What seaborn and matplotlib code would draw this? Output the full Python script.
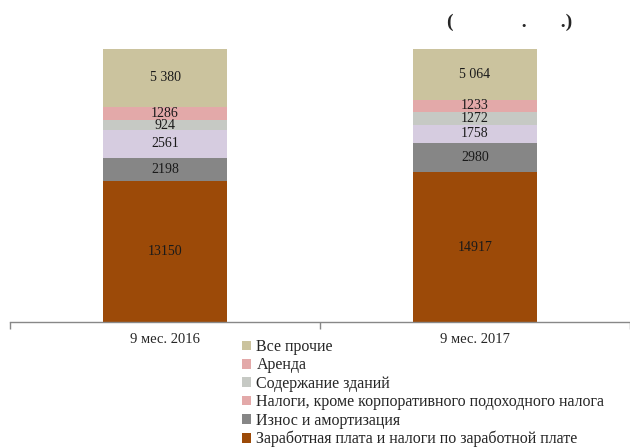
import numpy as np
import pandas as pd
import matplotlib
matplotlib.use('Agg')
import matplotlib.pyplot as plt
from matplotlib.patches import Patch
import seaborn as sns

# data (bottom -> top)
periods = ['9 мес. 2016', '9 мес. 2017']
series = ['Заработная плата и налоги по заработной плате',
          'Износ и амортизация',
          'Налоги, кроме корпоративного подоходного налога',
          'Содержание зданий',
          'Аренда',
          'Все прочие']
v2016 = [13150, 2198, 2561, 924, 1286, 5380]
v2017 = [14917, 2980, 1758, 1272, 1233, 5064]
labels2016 = ['13150', '2198', '2561', '924', '1286', '5 380']
labels2017 = ['14917', '2980', '1758', '1272', '1233', '5 064']

bar_colors = ['#9C4A08', '#868686', '#D6CCE0', '#C6C9C4', '#E3A9A9', '#CBC39E']
legend_colors = ['#9C4A08', '#868686', '#E3A9A9', '#C6C9C4', '#E3A9A9', '#CBC39E']

sns.set_theme(style='white')
plt.rcParams['font.family'] = ['Liberation Serif', 'DejaVu Serif']

vals = pd.DataFrame({periods[0]: v2016, periods[1]: v2017}, index=series)
share = vals / vals.sum() * 100
cum = share.cumsum()

fig = plt.figure(figsize=(6.3, 4.48), dpi=100)
ax = fig.add_axes([10 / 630, 1 - 322 / 448, 620 / 630, (322 - 49) / 448])

# draw cumulative bars from top down so each segment shows
for i in range(len(series) - 1, -1, -1):
    d = pd.DataFrame({'period': periods, 'val': cum.iloc[i].values})
    sns.barplot(data=d, x='period', y='val', color=bar_colors[i],
                width=0.4, saturation=1, ax=ax, linewidth=0, zorder=2)

for j, lab in enumerate([labels2016, labels2017]):
    for i in range(len(series)):
        y = cum.iloc[i, j] - share.iloc[i, j] / 2
        ax.text(j, y, lab[i], ha='center', va='center', fontsize=10, color='#1a1a1a', zorder=3)

ax.set_xlim(-0.5, 1.5)
ax.set_ylim(0, 100)
ax.set_xlabel('')
ax.set_ylabel('')
ax.set_yticks([])
ax.set_xticks([-0.5, 0.5, 1.5])
ax.set_xticklabels([])
ax.set_xticks([0, 1], minor=True)
ax.set_xticklabels(periods, minor=True, fontsize=10.5)
ax.tick_params(axis='x', which='major', length=5, width=1, color='#888888', direction='out', bottom=True)
ax.tick_params(axis='x', which='minor', length=0, pad=8)
for s in ['top', 'left', 'right']:
    ax.spines[s].set_visible(False)
ax.spines['bottom'].set_color('#888888')
ax.spines['bottom'].set_linewidth(1)

handles = [Patch(facecolor=legend_colors[i], edgecolor='none', label=series[i])
           for i in range(len(series) - 1, -1, -1)]
fig.legend(handles=handles, loc='upper left', bbox_to_anchor=(242 / 630, 1 - 339 / 448),
           frameon=False, fontsize=11.5, handlelength=0.55, handleheight=0.55,
           handletextpad=0.35, labelspacing=0.15, borderpad=0, borderaxespad=0)

fig.text(447 / 630, 1 - 22 / 448, '(              .       .)', fontsize=14, fontweight='bold',
         ha='left', va='center')

fig.savefig('out.png', dpi=100)
